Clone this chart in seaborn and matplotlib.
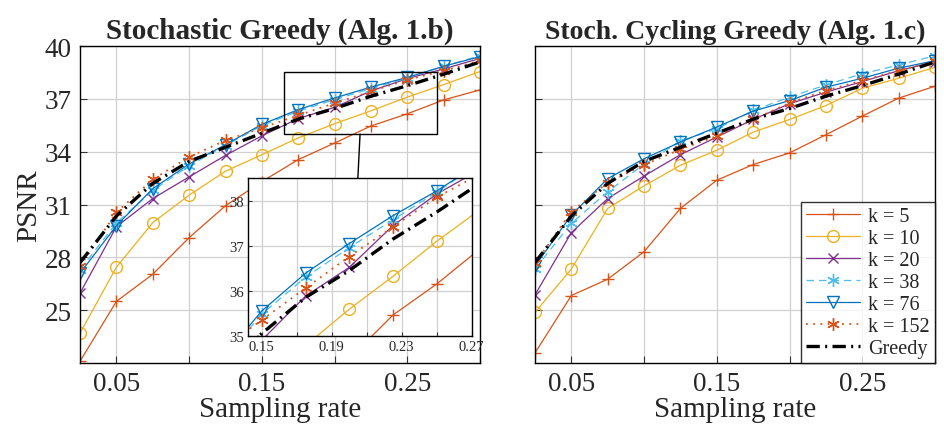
import matplotlib
import matplotlib.pyplot as plt
import numpy as np
import pandas as pd
import seaborn as sns
from matplotlib.patches import ConnectionPatch, Rectangle

# sampling rates
RATES = [0.025, 0.05, 0.075, 0.1, 0.125, 0.15, 0.175, 0.2, 0.225, 0.25, 0.275, 0.3]

# Stochastic Greedy (Alg. 1.b)
SG_K5 = [22.1, 25.5, 27.04, 29.12, 30.93, 32.3, 33.55, 34.49, 35.46, 36.15, 36.94, 37.51]
SG_K10 = [23.7, 27.44, 29.97, 31.53, 32.89, 33.83, 34.78, 35.59, 36.32, 37.1, 37.81, 38.55]
SG_K20 = [25.97, 29.74, 31.34, 32.57, 33.79, 34.9, 35.88, 36.52, 37.45, 38.15, 38.7, 39.3]
SG_K38 = [27.3, 29.95, 31.8, 33.2, 34.35, 35.48, 36.3, 36.96, 37.58, 38.19, 38.85, 39.45]
SG_K76 = [27.1, 29.8, 31.9, 33.3, 34.4, 35.55, 36.39, 37.05, 37.67, 38.22, 38.85, 39.4]
SG_K152 = [27.5, 30.55, 32.43, 33.7, 34.64, 35.35, 36.06, 36.76, 37.42, 38.08, 38.6, 39.17]

# Stochastic Cycling Greedy (Alg. 1.c)
SCG_K5 = [22.57, 25.83, 26.76, 28.32, 30.78, 32.38, 33.27, 33.93, 34.96, 36.02, 37.04, 37.72]
SCG_K10 = [24.87, 27.34, 30.78, 32.06, 33.23, 34.08, 35.11, 35.83, 36.62, 37.6, 38.17, 38.79]
SCG_K20 = [25.87, 29.4, 31.34, 32.62, 33.83, 34.83, 35.83, 36.72, 37.38, 37.98, 38.6, 39.11]
SCG_K38 = [27.34, 29.93, 31.72, 33.3, 34.6, 35.3, 36.34, 37.1, 37.79, 38.42, 38.92, 39.45]
SCG_K76 = [27.5, 30.4, 32.47, 33.6, 34.55, 35.4, 36.3, 36.9, 37.66, 38.17, 38.74, 39.17]
SCG_K152 = [27.66, 30.59, 32.25, 33.26, 34.13, 34.89, 35.83, 36.77, 37.47, 38.04, 38.6, 39.13]

# deterministic greedy
GREEDY = [27.7, 30.35, 32.2, 33.45, 34.25, 35.05, 35.85, 36.45, 37.15, 37.75, 38.4, 39.1]

LABELS = ["k = 5", "k = 10", "k = 20", "k = 38", "k = 76", "k = 152", "Greedy"]

XTICKS = [0.05, 0.1, 0.15, 0.2, 0.25, 0.3]
XTICKLABELS = ["0.05", "", "0.15", "", "0.25", ""]
YTICKS = [25, 28, 31, 34, 37, 40]
INSET_XTICKS = [0.15, 0.17, 0.19, 0.21, 0.23, 0.25, 0.27]
INSET_XTICKLABELS = ["0.15", "", "0.19", "", "0.23", "", "0.27"]
INSET_YTICKS = [35, 36, 37, 38]

ASTERISK = (6, 2, 0)

# MATLAB-like line styles
STYLES = [
    dict(color="#D95319", marker="+", linestyle="-", lw=0.9, ms=9),
    dict(color="#EDB120", marker="o", linestyle="-", lw=0.9, ms=8.5, mfc="none"),
    dict(color="#7E2F8E", marker="x", linestyle="-", lw=0.9, ms=6.5),
    dict(color="#4DBEEE", marker=ASTERISK, linestyle=(0, (6, 4)), lw=0.9, ms=9),
    dict(color="#0072BD", marker="v", linestyle="-", lw=0.9, ms=8, mfc="none"),
    dict(color="#D95319", marker=ASTERISK, linestyle=(0, (1, 3)), lw=1.3, ms=9),
    dict(color="black", marker="", linestyle=(0, (4, 1.6, 0.6, 1.6)), lw=2.4),
]

sns.set_theme(style="white")
plt.rcParams["font.family"] = ["Liberation Serif", "DejaVu Serif"]


def draw_series(ax, series_list):
    for values, label, st in zip(series_list, LABELS, STYLES):
        st = dict(st)
        st["mec"] = st["color"]
        st["mew"] = 1.0
        sns.lineplot(x=RATES, y=values, ax=ax, label=label, legend=False, **st)


def style_axes(ax, xticks, xticklabels, yticks, xlim, ylim, fs, show_ylabels=True):
    ax.set_xlim(*xlim)
    ax.set_ylim(*ylim)
    ax.set_xticks(xticks)
    ax.set_xticklabels(xticklabels, fontsize=fs)
    ax.set_yticks(yticks)
    if show_ylabels:
        ax.set_yticklabels([str(v) for v in yticks], fontsize=fs)
    else:
        ax.set_yticklabels([])
    ax.grid(True, color="#d0d0d0", lw=0.9)
    ax.tick_params(direction="in", length=5, width=0.8, pad=6, color="#333333",
                   top=False, right=False, bottom=True, left=True)
    for sp in ax.spines.values():
        sp.set_color("black")
        sp.set_linewidth(1.0)
    ax.set_facecolor("white")


fig = plt.figure(figsize=(9.45, 4.35), dpi=100)
ax1 = fig.add_axes([0.0847, 0.1632, 0.4233, 0.7287])
ax2 = fig.add_axes([0.5661, 0.1632, 0.4233, 0.7287])

sg = [SG_K5, SG_K10, SG_K20, SG_K38, SG_K76, SG_K152, GREEDY]
scg = [SCG_K5, SCG_K10, SCG_K20, SCG_K38, SCG_K76, SCG_K152, GREEDY]

draw_series(ax1, sg)
draw_series(ax2, scg)

for ax, title, tfs, show in [(ax1, "Stochastic Greedy (Alg. 1.b)", 21, True),
                             (ax2, "Stoch. Cycling Greedy (Alg. 1.c)", 20, False)]:
    style_axes(ax, XTICKS, XTICKLABELS, YTICKS, (0.025, 0.3), (22, 40), 19.5, show)
    ax.set_title(title, fontsize=tfs, fontweight="bold", pad=6)
    ax.set_xlabel("Sampling rate", fontsize=21, labelpad=0)

ax1.set_ylabel("PSNR", fontsize=21, labelpad=2)
ax2.set_ylabel("")

# zoom box on the left panel
ax1.add_patch(Rectangle((0.1655, 35), 0.105, 3.5, fill=False, ec="black", lw=1.0, zorder=5))

# inset
axins = fig.add_axes([0.2628, 0.226, 0.2364, 0.3618])
draw_series(axins, sg)
style_axes(axins, INSET_XTICKS, INSET_XTICKLABELS, INSET_YTICKS, (0.1423, 0.27), (35, 38.5), 10.5)
axins.tick_params(length=3, pad=3)
axins.set_xlabel("")
axins.set_ylabel("")

con = ConnectionPatch(xyA=(0.2175, 35), coordsA="data", axesA=ax1,
                      xyB=(0.2049, 38.5), coordsB="data", axesB=axins,
                      color="black", lw=1.0)
fig.add_artist(con)

# legend on the right panel
handles, labels = ax2.get_legend_handles_labels()
leg = ax2.legend(handles, labels, loc="lower right", fontsize=14.5, frameon=True,
                 fancybox=False, edgecolor="black", borderaxespad=0.0,
                 handlelength=2.7, labelspacing=0.14, borderpad=0.25,
                 handletextpad=0.4)
leg.get_frame().set_linewidth(1.0)

fig.savefig("out.png", dpi=100)
